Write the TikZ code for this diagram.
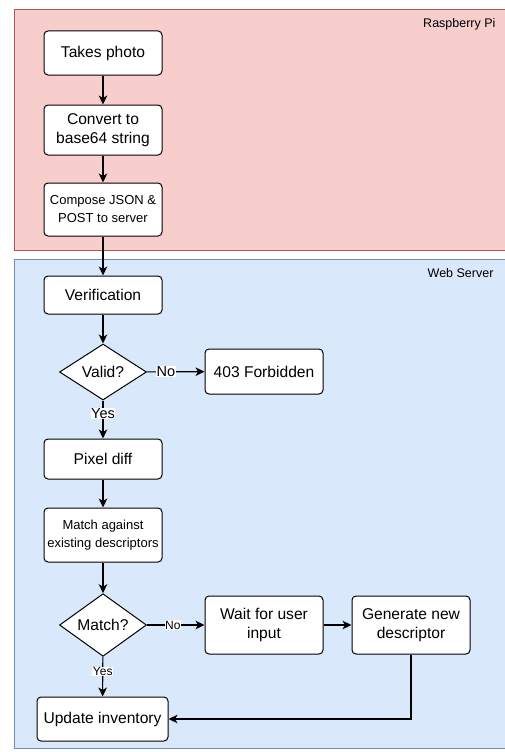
\documentclass[tikz,border=0pt]{standalone}
\usepackage{fontspec}
\setmainfont{Liberation Sans}
\usetikzlibrary{arrows.meta,shapes.geometric}
\definecolor{pifill}{HTML}{F8CECC}
\definecolor{pidraw}{HTML}{B85450}
\definecolor{wsfill}{HTML}{DAE8FC}
\definecolor{wsdraw}{HTML}{6C8EBF}
\begin{document}
\begin{tikzpicture}[x=1pt,y=-1pt,
  box/.style={draw=black, fill=white, rounded corners=4pt, line width=1pt, align=center,
    minimum width=118pt, inner sep=1pt, font=\fontsize{15.6}{19.5}\selectfont},
  smallbox/.style={box, font=\fontsize{13}{18}\selectfont},
  decision/.style={draw=black, fill=white, diamond, line width=1pt, inner sep=0pt,
    minimum width=87pt, minimum height=56pt, font=\fontsize{15.6}{19}\selectfont},
  flow/.style={-{Stealth[length=9pt,width=8.5pt,inset=2.5pt]}, line width=1.1pt},
  lbl/.style={fill=white, inner sep=0.5pt, font=\fontsize{14.5}{16}\selectfont},
  slbl/.style={fill=white, inner sep=0.5pt, font=\fontsize{12}{14}\selectfont},
  lane/.style={font=\fontsize{12.5}{14}\selectfont, anchor=east}
]
\useasboundingbox (0,0) rectangle (504,752);
% containers
\draw[fill=pifill, draw=pidraw, line width=1pt] (14,9.5) rectangle (506,250.5);
\draw[fill=wsfill, draw=wsdraw, line width=1pt] (14,259) rectangle (506,748);
\node[lane] (rpi) at (499,24) {Raspberry Pi};
\node[lane] (ws) at (497,273) {Web Server};
% nodes
\node[box, minimum height=44pt] (take) at (103,53) {Takes photo};
\node[box, minimum height=50pt] (conv) at (103,130) {Convert to\\base64 string};
\node[smallbox, minimum height=53pt] (comp) at (103,209.5) {Compose JSON \&\\POST to server};
\node[box, minimum height=38pt] (ver) at (103,295) {Verification};
\node[decision] (valid) at (103,372) {Valid?};
\node[box, minimum height=45pt] (forb) at (264,371.5) {403 Forbidden};
\node[box, minimum height=40pt] (pix) at (103,459) {Pixel diff};
\node[smallbox, minimum height=54pt] (mat) at (103,535) {Match against\\existing descriptors};
\node[decision] (match) at (103,625) {Match?};
\node[box, minimum height=58pt] (wait) at (264,625) {Wait for user\\input};
\node[box, minimum height=58pt] (gen) at (411,625) {Generate new\\descriptor};
\node[box, minimum height=44pt, minimum width=131pt] (upd) at (102.5,719) {Update inventory};
% connectors
\draw[flow] (take) -- (conv);
\draw[flow] (conv) -- (comp);
\draw[flow] (comp) -- (ver);
\draw[flow] (ver) -- (valid);
\draw[flow] (valid) -- node[lbl, pos=0.33] {No} (forb);
\draw[flow] (valid) -- node[lbl, pos=0.35] {Yes} (pix);
\draw[flow] (pix) -- (mat);
\draw[flow] (mat) -- (match);
\draw[flow] (match) -- node[slbl, pos=0.45] {No} (wait);
\draw[flow] (match) -- node[slbl, pos=0.37] {Yes} (upd);
\draw[flow] (wait) -- (gen);
\draw[flow] (gen) |- (upd);
\end{tikzpicture}
\end{document}
